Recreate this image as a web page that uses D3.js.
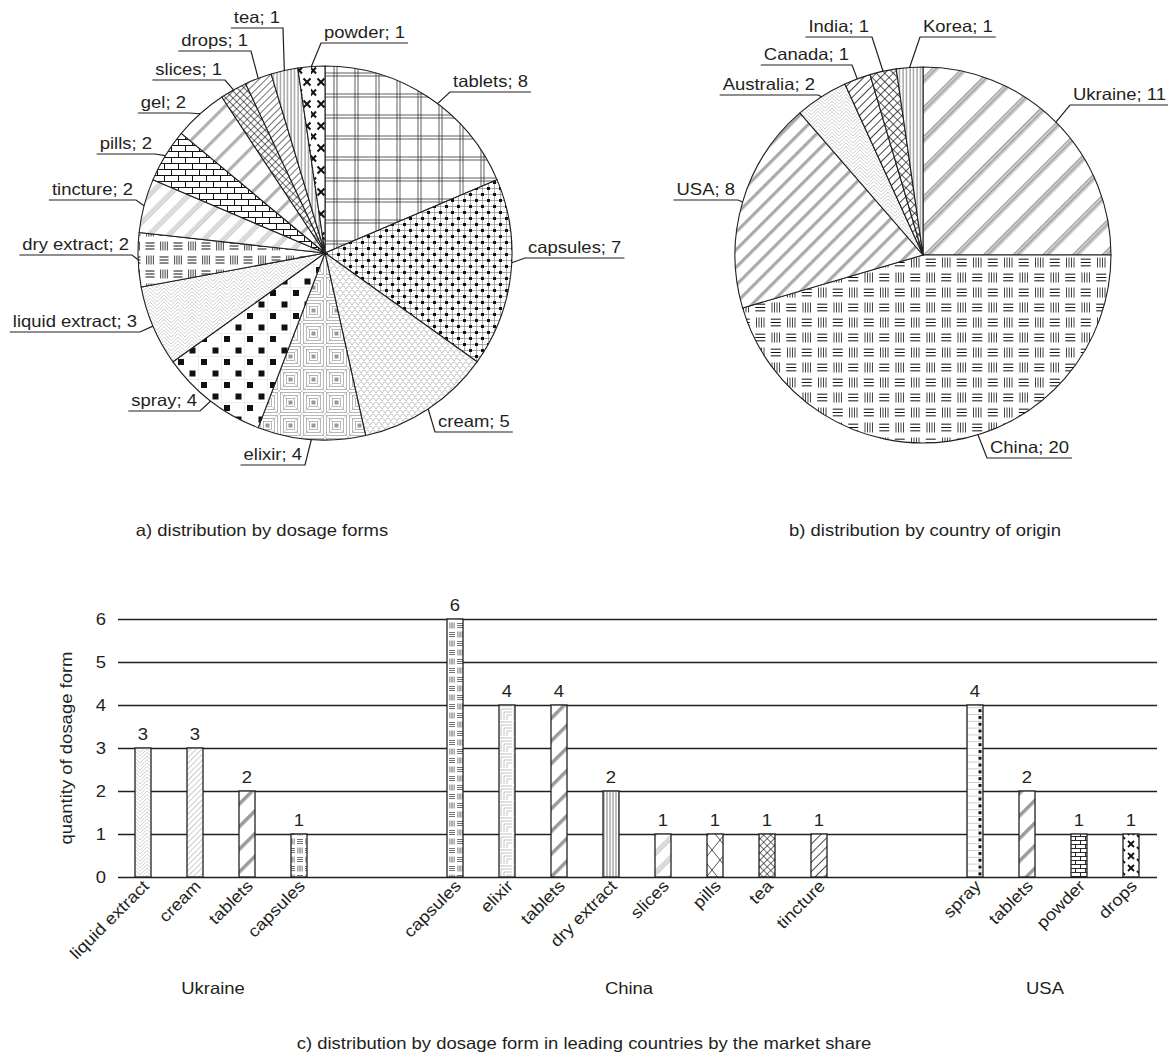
<!DOCTYPE html>
<html><head><meta charset="utf-8">
<script src="https://cdn.jsdelivr.net/npm/d3@7"></script>
<style>
html,body{margin:0;padding:0;background:#fff;}
text{font-family:"Liberation Sans",Arial,Helvetica,sans-serif;font-size:16.5px;fill:#231f20;}
</style></head><body>
<svg id="chart" width="1168" height="1057"></svg>
<script>
// ---------- data ----------
const formNames = ["tablets","capsules","cream","elixir","spray","liquid extract","dry extract","tincture","pills","gel","slices","drops","tea","powder"];
const formCounts = [8,7,5,4,4,3,2,2,2,2,1,1,1,1];
const countryNames = ["Ukraine","China","USA","Australia","Canada","India","Korea"];
const countryCounts = [11,20,8,2,1,1,1];
const groupNames = ["Ukraine","China","USA"];
const ukraineForms = ["liquid extract","cream","tablets","capsules"];
const ukraineCounts = [3,3,2,1];
const chinaForms = ["capsules","elixir","tablets","dry extract","slices","pills","tea","tincture"];
const chinaCounts = [6,4,4,2,1,1,1,1];
const usaForms = ["spray","tablets","powder","drops"];
const usaCounts = [4,2,1,1];
const yTicks = [0,1,2,3,4,5,6];
const captions = ["a) distribution by dosage forms","b) distribution by country of origin","c) distribution by dosage form in leading countries by the market share"];
const yTitle = "quantity  of dosage form";

// ---------- styles / layout ----------
const INK = "#231f20";
const SX = 1.12;
const formPattern = {tablets:"p-dblgrid",capsules:"p-weave",cream:"p-scale",elixir:"p-nest",spray:"p-dots","liquid extract":"p-herring","dry extract":"p-dry",tincture:"p-gtri",pills:"p-brick",gel:"p-gstripe",slices:"p-xhatch",drops:"p-diag",tea:"p-vert",powder:"p-xmark"};
const countryPattern = {Ukraine:"p-ukr",China:"p-china",USA:"p-usa",Australia:"p-herring",Canada:"p-diag6",India:"p-xhatch6",Korea:"p-vert"};
const barPattern = {"Ukraine|liquid extract":"p-herring","Ukraine|cream":"p-gfine","Ukraine|tablets":"p-bstripe","Ukraine|capsules":"p-dryb","China|capsules":"p-dryb","China|elixir":"p-corner","China|tablets":"p-bstripe","China|dry extract":"p-vert3","China|slices":"p-gtri","China|pills":"p-bigx","China|tea":"p-xhatch","China|tincture":"p-diag8","USA|spray":"p-spray","USA|tablets":"p-bstripe","USA|powder":"p-brickb","USA|drops":"p-xmarkb"};
// label anchors: x = near end of underline, y = underline, side, optional edge angle
const labelsA = {
  tablets:{x:450,y:92,side:"r",angle:37}, capsules:{x:525,y:258,side:"r",angle:93},
  cream:{x:435,y:432,side:"r"}, powder:{x:321,y:43,side:"r"},
  elixir:{x:305,y:465,side:"l"}, spray:{x:200,y:411,side:"l"},
  "liquid extract":{x:140,y:332,side:"l"}, "dry extract":{x:132,y:255,side:"l"},
  tincture:{x:136,y:200,side:"l"}, pills:{x:155,y:154,side:"l"},
  gel:{x:189,y:113,side:"l"}, slices:{x:225,y:80,side:"l"},
  drops:{x:251,y:51,side:"l"}, tea:{x:283,y:28,side:"l"}
};
const labelsB = {
  Ukraine:{x:1070,y:105,side:"r"}, China:{x:987,y:458,side:"r",angle:163},
  USA:{x:738,y:200,side:"l"}, Australia:{x:818,y:95,side:"l"},
  Canada:{x:852,y:65,side:"l"}, India:{x:872,y:37,side:"l"},
  Korea:{x:920,y:37,side:"r"}
};

const svg = d3.select("#chart");
svg.append("rect").attr("width",1168).attr("height",1057).attr("fill","#fff");

// ---------- patterns ----------
const defs = svg.append("defs");
function pat(id, w, h, fn, tf) {
  const p = defs.append("pattern").attr("id", id).attr("patternUnits","userSpaceOnUse")
    .attr("width", w).attr("height", h);
  if (tf) p.attr("patternTransform", tf);
  p.append("rect").attr("width", w).attr("height", h).attr("fill", "#fff");
  fn(p);
}
function ln(p, d, c, w) {
  p.append("path").attr("d", d).attr("stroke", c || "#111").attr("stroke-width", w || 1).attr("fill","none");
}
function box(p, x, y, w, h, c) { p.append("rect").attr("x",x).attr("y",y).attr("width",w).attr("height",h).attr("fill",c); }
function dryPat(id, P, R, a, lw) {
  pat(id, P, 2*R, p => {
    [[0,0,"h"],[P/2,0,"v"],[0,R,"v"],[P/2,R,"h"]].forEach(([bx,by,t]) => {
      const x0 = bx + (P/2 - a)/2, y0 = by + (R - a)/2;
      let d = "";
      if (t === "h") { for (let k=0;k<3;k++){ const yy = y0 + a*(k+0.5)/3; d += `M${x0},${yy}H${x0+a}`; } ln(p, d, "#111", lw); }
      else { for (let k=0;k<4;k++){ const xx = x0 + a*(k+0.5)/4; d += `M${xx},${y0}V${y0+a}`; } ln(p, d, "#444", lw); }
    });
  });
}
pat("p-dblgrid", 21, 21, p => ln(p, "M0,9H21M0,12H21M9,0V21M12,0V21", "#333", 0.8));
pat("p-weave", 12, 12, p => { ln(p, "M0,1.5H12M0,7.5H12M1.5,0V12M7.5,0V12", "#888", 0.7); box(p,0,0,3,3,"#111"); box(p,6,6,3,3,"#111"); });
pat("p-scale", 12, 8, p => ln(p, "M0,8Q3,2 6,8Q9,2 12,8M-3,4Q0,-2 3,4Q6,-2 9,4Q12,-2 15,4", "#aaa", 0.7));
pat("p-nest", 23, 23, p => {
  [1.5,4.5,7.5].forEach(i => p.append("rect").attr("x",i).attr("y",i).attr("width",23-2*i).attr("height",23-2*i).attr("fill","none").attr("stroke","#888").attr("stroke-width",0.6));
  box(p, 9.5, 9.5, 4, 4, "#999");
  ln(p, "M0,0L7.5,7.5M23,0L15.5,7.5M0,23L7.5,15.5M23,23L15.5,15.5", "#aaa", 0.5);
});
pat("p-dots", 23, 23, p => { ln(p, "M0,11.5H23M11.5,0V23", "#ddd", 0.5); box(p,2.5,2.5,6,6,"#111"); box(p,14,14,6,6,"#111"); });
pat("p-herring", 14, 7, p => ln(p, "M0,7L7,0L14,7M0,3.5L3.5,0M10.5,0L14,3.5M3.5,7L7,3.5L10.5,7", "#bbb", 0.7));
dryPat("p-dry", 28, 14, 9, 1);
dryPat("p-china", 31, 15, 10, 1);
dryPat("p-dryb", 16, 9, 6, 0.6);
pat("p-gtri", 6, 14, p => ln(p, "M0,1H6M0,2.8H6M0,4.6H6", "#777", 0.5), "rotate(-45)");
pat("p-brick", 14, 12, p => ln(p, "M0,0.5H14M0,6.5H14M0.5,0.5V6.5M7.5,6.5V12.5", "#111", 1));
pat("p-brickb", 10, 8, p => ln(p, "M0,0.5H10M0,4.5H10M0.5,0.5V4.5M5.5,4.5V8.5", "#111", 0.9));
pat("p-gstripe", 6, 16, p => box(p, 0, 0, 6, 3.2, "#b0b0b0"), "rotate(-45)");
pat("p-bstripe", 6, 16, p => box(p, 0, 0, 6, 3.5, "#9a9a9a"), "rotate(-45)");
pat("p-usa", 6, 12.5, p => box(p, 0, 0, 6, 3.2, "#aaa"), "rotate(-45)");
pat("p-xhatch", 5, 5, p => ln(p, "M0,0.5H5M0.5,0V5", "#111", 0.6), "rotate(45)");
pat("p-xhatch6", 6, 6, p => ln(p, "M0,0.5H6M0.5,0V6", "#111", 0.7), "rotate(45)");
pat("p-diag", 5, 5, p => ln(p, "M0,0.5H5", "#111", 0.6), "rotate(-45)");
pat("p-diag6", 6, 6, p => ln(p, "M0,0.5H6", "#111", 0.8), "rotate(-45)");
pat("p-diag8", 6, 6.5, p => ln(p, "M0,0.5H6", "#111", 0.8), "rotate(-45)");
pat("p-gfine", 4, 4, p => ln(p, "M0,0.5H4", "#aaa", 0.6), "rotate(-45)");
pat("p-vert", 3.5, 4, p => ln(p, "M1,0V4", "#111", 0.6));
pat("p-vert3", 3, 4, p => ln(p, "M1,0V4", "#222", 0.6));
pat("p-ukr", 4, 21, p => ln(p, "M0,0.5H4M0,2H4M0,3.5H4M0,5H4", "#333", 0.5), "rotate(-45)");
pat("p-xmark", 14, 22, p => ln(p, "M6.5,1.5L13.5,8.5M13.5,1.5L6.5,8.5M-0.5,12.5L5,18.5M5,12.5L-0.5,18.5", "#111", 2));
pat("p-xmarkb", 16, 12, p => ln(p, "M8,1L14,7M14,1L8,7M1,7L5,11", "#111", 1.8));
pat("p-bigx", 16, 20, p => ln(p, "M0,0L16,20M16,0L0,20", "#222", 0.8));
pat("p-corner", 16, 16, p => ln(p, "M2,16V2H16M5,16V5H16M8,16V8H16M11,16V11H16", "#999", 0.6));
pat("p-spray", 16, 6.8, p => { ln(p, "M0,0.5H16M7,0.5V6.8", "#aaa", 0.6); box(p, 2.5, 2, 3, 3, "#111"); });

// ---------- text helper ----------
function txt(sel, x, y, s, anchor, rot) {
  return sel.append("text")
    .attr("transform", `translate(${x},${y}) rotate(${rot || 0}) scale(${SX},1)`)
    .attr("text-anchor", anchor || "start").text(s);
}

// ---------- pies ----------
function drawPie(cx, cy, r, names, counts, patterns, labels) {
  const data = names.map((n, i) => ({name: n, value: counts[i]}));
  const arcs = d3.pie().sort(null).value(d => d.value)(data);
  const arc = d3.arc().innerRadius(0).outerRadius(r);
  const edge = d3.arc().innerRadius(r).outerRadius(r);
  const g = svg.append("g").attr("transform", `translate(${cx},${cy})`);
  g.selectAll("path.slice").data(arcs).join("path").attr("class","slice")
    .attr("d", arc).attr("fill", d => `url(#${patterns[d.data.name]})`)
    .attr("stroke", INK).attr("stroke-width", 1.1).attr("stroke-linejoin","round");
  arcs.forEach(d => {
    const L = labels[d.data.name];
    let [ex, ey] = edge.centroid(d);
    if (L.angle !== undefined) { const a = L.angle * Math.PI / 180; ex = r * Math.sin(a); ey = -r * Math.cos(a); }
    const s = `${d.data.name}; ${d.data.value}`;
    const t = txt(svg, L.side === "r" ? L.x + 3 : L.x - 3, L.y - 5, s, L.side === "r" ? "start" : "end");
    const w = t.node().getComputedTextLength() * SX;
    const far = L.side === "r" ? L.x + w + 6 : L.x - w - 6;
    svg.append("path").attr("d", `M${cx + ex},${cy + ey}L${L.x},${L.y}L${far},${L.y}`)
      .attr("fill","none").attr("stroke", INK).attr("stroke-width", 1.2);
  });
}
drawPie(325, 253, 187, formNames, formCounts, formPattern, labelsA);
drawPie(923, 255, 188, countryNames, countryCounts, countryPattern, labelsB);
txt(svg, 262, 536, captions[0], "middle");
txt(svg, 925, 536, captions[1], "middle");

// ---------- bar chart ----------
const groupForms = [ukraineForms, chinaForms, usaForms];
const groupCounts = [ukraineCounts, chinaCounts, usaCounts];
const slots = [];
groupNames.forEach((gname, gi) => {
  groupForms[gi].forEach((f, i) => slots.push({key: `${gname}|${f}`, group: gname, form: f, value: groupCounts[gi][i]}));
  if (gi < groupNames.length - 1) slots.push({key: `gap${gi}a`}, {key: `gap${gi}b`});
});
const bars = slots.filter(s => s.form);
const x = d3.scaleBand().domain(slots.map(s => s.key)).range([117, 1157]).paddingInner(36/52).paddingOuter(18/52);
const y = d3.scaleLinear().domain([0, 6]).range([877, 619]);

const axis = svg.append("g").attr("transform", "translate(118,0)")
  .call(d3.axisLeft(y).tickValues(yTicks).tickSize(-(1157 - 118)).tickPadding(12).tickFormat(d3.format("d")));
axis.select(".domain").remove();
axis.selectAll(".tick line").attr("stroke", INK).attr("stroke-width", 1.3);
axis.selectAll(".tick text").attr("font-size", null).attr("font-family", null)
  .attr("fill", INK).attr("dy", "0.35em").attr("transform", `scale(${SX},1)`).attr("x", -12 / SX);

svg.selectAll("rect.bar").data(bars).join("rect").attr("class","bar")
  .attr("x", d => x(d.key)).attr("width", x.bandwidth())
  .attr("y", d => y(d.value)).attr("height", d => y(0) - y(d.value))
  .attr("fill", d => `url(#${barPattern[d.key]})`).attr("stroke", INK).attr("stroke-width", 1.3);

bars.forEach(d => {
  const cxb = x(d.key) + x.bandwidth() / 2;
  txt(svg, cxb, y(d.value) - 8, String(d.value), "middle");
  txt(svg, cxb + 7, 887, d.form, "end", -45);
});
groupNames.forEach(gname => {
  const c = d3.mean(bars.filter(b => b.group === gname), b => x(b.key) + x.bandwidth() / 2);
  txt(svg, c - 8, 994, gname, "middle");
});
txt(svg, 0, 0, yTitle, "middle").attr("transform", `translate(72,748) rotate(-90) scale(${SX},1)`);
txt(svg, 584, 1049, captions[2], "middle");
</script>
</body></html>
